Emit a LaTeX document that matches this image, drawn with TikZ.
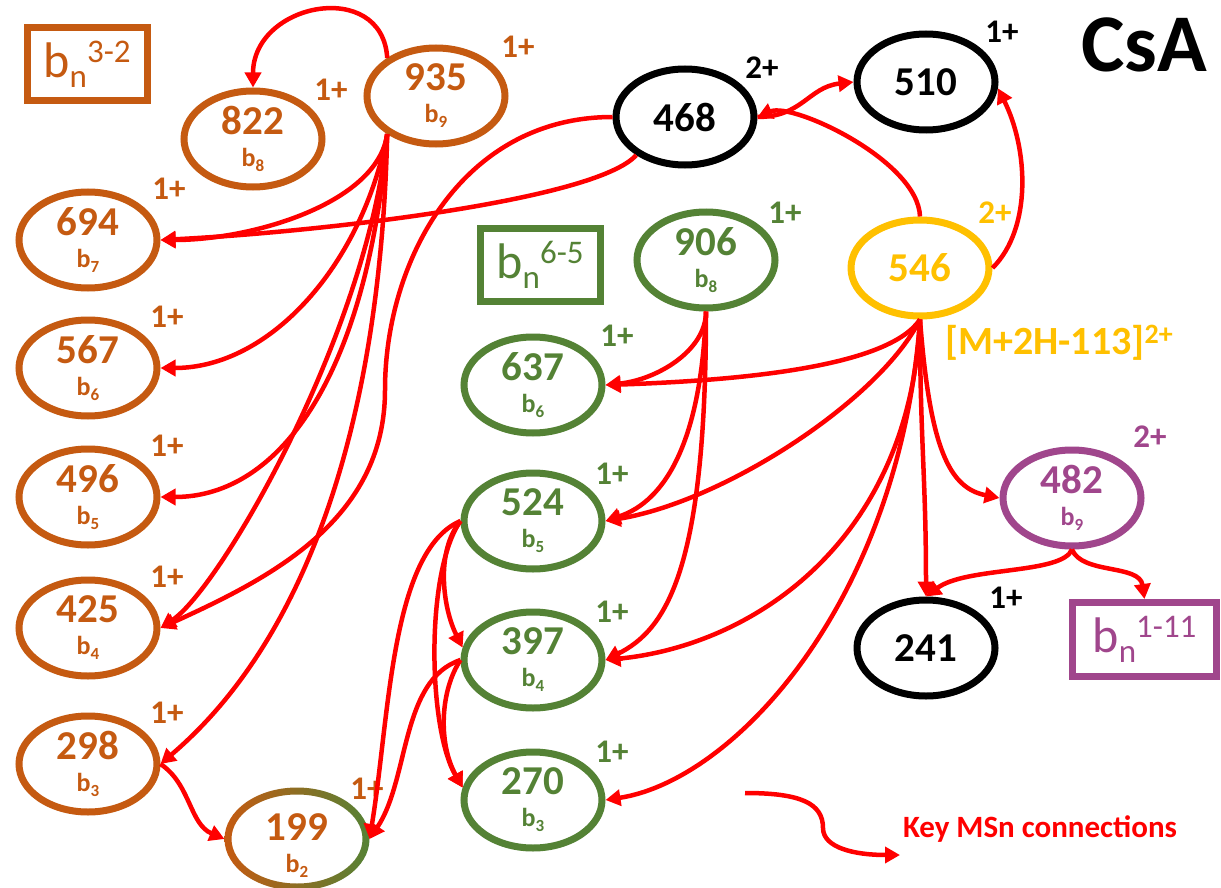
\documentclass[tikz,border=0pt]{standalone}
\usepackage{fontspec}
\setmainfont{Carlito}
\usetikzlibrary{shapes.geometric,arrows.meta}

\definecolor{brn}{HTML}{C55A11}
\definecolor{grn}{HTML}{548235}
\definecolor{ylw}{HTML}{FFC000}
\definecolor{prp}{HTML}{A0468C}

\newcommand{\bsub}[1]{{\fontsize{26}{26}\selectfont b\raisebox{-5pt}{\fontsize{17}{17}\selectfont #1}}}
\newcommand{\bfam}[1]{{\fontsize{50}{50}\selectfont b\raisebox{-10pt}{\fontsize{33}{33}\selectfont n}\raisebox{15pt}{\fontsize{33}{33}\selectfont #1}}}

\tikzset{
  ion/.style={ellipse, draw, line width=7pt, minimum width=138pt, minimum height=96pt, inner sep=0pt, align=center, font=\bfseries\fontsize{41}{32}\selectfont},
  chg/.style={font=\bfseries\fontsize{33}{33}\selectfont},
  fam/.style={draw, line width=7pt, minimum width=120pt, minimum height=73pt, inner sep=0pt},
  msn/.style={draw=red, line width=4.5pt, -{Triangle[length=15pt,width=16pt]}},
}

\begin{document}
\begin{tikzpicture}[x=1pt,y=-1pt]
\useasboundingbox (0,0) rectangle (1221,888);
\fill[white] (0,0) rectangle (1221,888);

\node[fam, draw=brn, text=brn] (b32) at (87,64) {\bfam{3-2}};
\node[fam, draw=grn, text=grn] (b65) at (540,265) {\bfam{6-5}};
\node[fam, draw=prp, text=prp, minimum width=144pt, minimum height=74pt] (b111) at (1144.5,639.5) {\bfam{1-11}};
\node[font=\bfseries\fontsize{82}{82}\selectfont] (title) at (1144,45) {CsA};

\node[ion, draw=brn, text=brn] (n935) at (436,96) {935\\ \bsub{9}};
\node[ion, draw=brn, text=brn] (n822) at (253,139) {822\\ \bsub{8}};
\node[ion, draw=brn, text=brn] (n694) at (88,240) {694\\ \bsub{7}};
\node[ion, draw=brn, text=brn] (n567) at (88,368) {567\\ \bsub{6}};
\node[ion, draw=brn, text=brn] (n496) at (88,497) {496\\ \bsub{5}};
\node[ion, draw=brn, text=brn] (n425) at (88,628) {425\\ \bsub{4}};
\node[ion, draw=brn, text=brn] (n298) at (88,764) {298\\ \bsub{3}};
\node[ion, draw=none] (n199) at (297,839) {};
\shade[left color=brn, right color=grn, even odd rule] (n199.center) ellipse [x radius=72.5pt, y radius=51.5pt] (n199.center) ellipse [x radius=65.5pt, y radius=44.5pt];
\node[ion, draw=none, text=brn, minimum size=0pt] (t199) at (297,846) {199\\ \bsub{2}};

\node[ion] (n468) at (685,117) {468};
\node[ion] (n510) at (926,82) {510};
\node[ion] (n241) at (926,648) {241};
\node[ion, draw=ylw, text=ylw] (n546) at (920,268) {546};
\node[ion, draw=prp, text=prp] (n482) at (1072,498) {482\\ \bsub{9}};

\node[ion, draw=grn, text=grn] (n906) at (706,260) {906\\ \bsub{8}};
\node[ion, draw=grn, text=grn] (n637) at (533,385) {637\\ \bsub{6}};
\node[ion, draw=grn, text=grn] (n524) at (533,521) {524\\ \bsub{5}};
\node[ion, draw=grn, text=grn] (n397) at (533,660) {397\\ \bsub{4}};
\node[ion, draw=grn, text=grn] (n270) at (533,800) {270\\ \bsub{3}};

\node[chg, text=brn] (c935) at (518,47) {1+};
\node[chg, text=brn] (c822) at (331,90) {1+};
\node[chg, text=brn] (c694) at (169,189) {1+};
\node[chg, text=brn] (c567) at (167,317) {1+};
\node[chg, text=brn] (c496) at (167,446) {1+};
\node[chg, text=brn] (c425) at (167,577) {1+};
\node[chg, text=brn] (c298) at (167,713) {1+};
\node[chg, text=brn] (c199) at (367,789) {1+};
\node[chg] (c468) at (762,68) {2+};
\node[chg] (c510) at (1002,32) {1+};
\node[chg] (c241) at (1006,598) {1+};
\node[chg, text=ylw] (c546) at (995,213) {2+};
\node[chg, text=prp] (c482) at (1150,437) {2+};
\node[chg, text=grn] (c906) at (785,213) {1+};
\node[chg, text=grn] (c637) at (617,336) {1+};
\node[chg, text=grn] (c524) at (612,474) {1+};
\node[chg, text=grn] (c397) at (612,612) {1+};
\node[chg, text=grn] (c270) at (612,752) {1+};

\node[font=\bfseries\fontsize{40}{40}\selectfont, text=ylw, anchor=west, inner sep=0pt] (mlabel) at (945,343) {[M+2H-113]\raisebox{11pt}{\fontsize{28}{28}\selectfont 2+}};

\draw[msn] (n935.142) .. controls +(-5,-80) and +(0,-85) .. (n822.north);
\draw[msn] (n935.218) .. controls +(-10,70) and +(90,0) .. (n694.east);
\draw[msn] (n935.218) .. controls +(-25,130) and +(110,0) .. (n567.east);
\draw[msn] (n935.218) .. controls +(-20,240) and +(120,0) .. (n496.east);
\draw[msn] (n935.218) .. controls +(-20,200) and +(60,-40) .. (n425.east);
\draw[msn] (n935.218) .. controls +(-10,420) and +(70,-60) .. (n298.east);
\draw[msn] (n298.east) .. controls +(30,20) and +(-35,-15) .. (n199.west);

\draw[msn] (n468.west) .. controls +(-150,0) and +(0,-130) .. (385,390) .. controls +(0,130) and +(110,-50) .. (n425.east);
\draw[msn] (n468.218) .. controls +(-40,45) and +(160,-8) .. (n694.east);
\draw[msn] (n468.east) .. controls +(45,0) and +(-45,5) .. (n510.west);

\draw[msn] (n546.north) .. controls +(-2,-56) and +(35,-15) .. (n468.east);
\draw[msn] (n546.east) .. controls +(40,-40) and +(30,60) .. (n510.-5);
\draw[msn] (n546.south) .. controls +(-30,45) and +(150,-5) .. (n637.east);
\draw[msn] (n546.south) .. controls +(-40,80) and +(120,-20) .. (n524.east);
\draw[msn] (n546.south) .. controls +(-10,220) and +(150,-15) .. (n397.east);
\draw[msn] (n546.south) .. controls +(-20,280) and +(130,-20) .. (n270.east);
\draw[msn] (n546.south) .. controls +(0,120) and +(0,-120) .. (n241.north);
\draw[msn] (n546.south) .. controls +(10,130) and +(-50,-10) .. (n482.west);

\draw[msn] (n906.south) .. controls +(0,40) and +(50,-5) .. (n637.east);
\draw[msn] (n906.south) .. controls +(-5,130) and +(60,-20) .. (n524.east);
\draw[msn] (n906.south) .. controls +(0,260) and +(60,-30) .. (n397.east);

\draw[msn] (n524.west) .. controls +(-25,30) and +(-20,-40) .. (n397.170);
\draw[msn] (n524.west) .. controls +(-35,50) and +(-35,-60) .. (n270.170);
\draw[msn] (n524.west) .. controls +(-70,30) and +(20,-120) .. (n199.east);
\draw[msn] (n397.west) .. controls +(-20,30) and +(-25,-45) .. (n270.170);
\draw[msn] (n397.west) .. controls +(-60,20) and +(40,-60) .. (n199.east);

\draw[msn] (n482.south) .. controls +(-10,25) and +(40,-30) .. (n241.north);
\draw[msn] (n482.south) .. controls +(10,25) and +(-5,-35) .. (b111.north);

\coordinate (k0) at (745,793);
\coordinate (k1) at (900,855);
\draw[msn] (k0) .. controls +(55,0) and +(0,-25) .. (823,828) .. controls +(0,20) and +(-45,0) .. (k1);
\node[font=\bfseries\fontsize{31}{31}\selectfont, text=red] (keytxt) at (1040,829) {Key MSn connections};
\end{tikzpicture}
\end{document}
